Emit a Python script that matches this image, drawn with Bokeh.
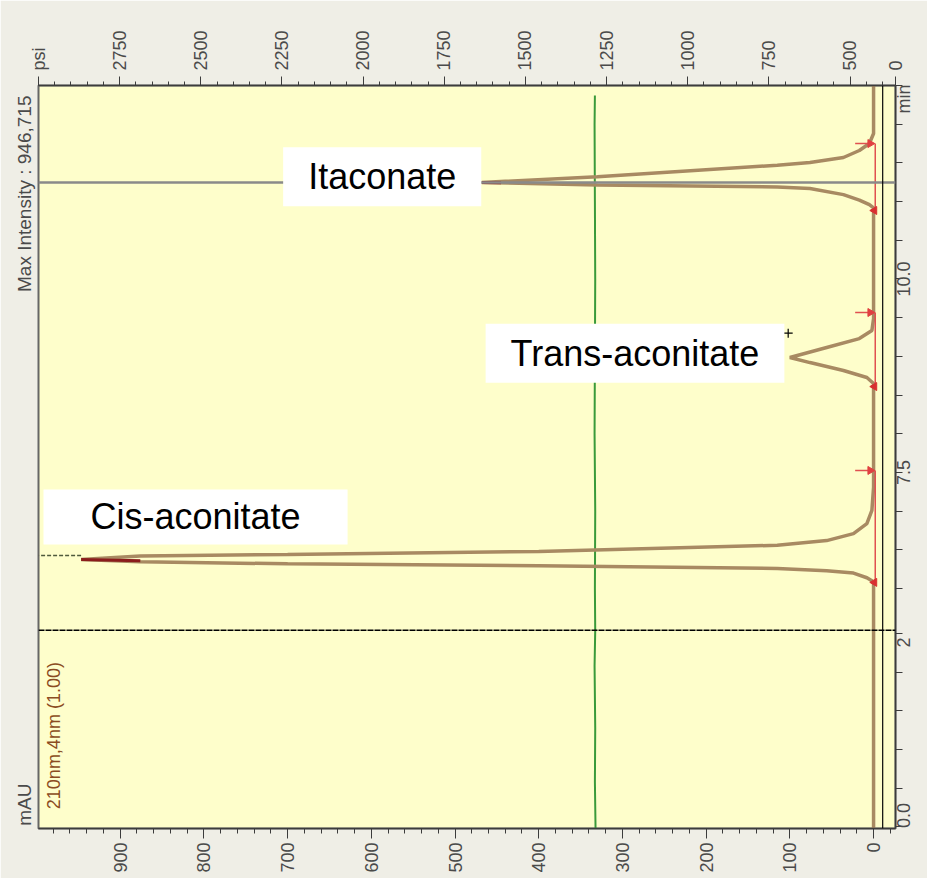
import math
from bokeh.plotting import figure
from bokeh.models import Range1d, LinearAxis, FixedTicker, Label, Span, BoxAnnotation
from bokeh.embed import file_html
from bokeh.resources import INLINE

# ---------------- data (picture is a chromatogram rotated 90 deg CCW) ----------------
# display time axis (min); the lower strip 0.0-2.5 min is stitched below 5.46 min
trace_time = [2.90, 6.07, 6.10, 6.14, 6.20, 6.23, 6.26, 6.295, 6.32, 6.345, 6.376, 6.42, 6.44, 6.48,
              6.56, 6.62, 6.71, 6.84, 7.01, 7.31,
              8.65, 8.727, 8.818, 8.92, 8.986, 9.115, 9.23, 9.335, 9.49,
              10.92, 10.96, 11.02, 11.09, 11.17, 11.19, 11.215, 11.247, 11.32, 11.47, 11.505, 11.57,
              11.66, 11.75, 11.88, 12.50]
trace_mau = [0, 0, 2, 8, 24, 56, 115, 400, 700, 876, 946.7, 876, 700, 400,
             115, 56, 24, 8, 2, 0,
             0, 8, 36, 76, 100, 56, 17, 2, 0,
             0, 5, 17, 36, 76, 115, 330, 468, 330, 115, 76, 36,
             17, 5, 0, 0]

peak_names = ["Cis-aconitate", "Trans-aconitate", "Itaconate"]
peak_start = [6.08, 8.61, 10.885]
peak_end = [7.526, 9.567, 11.75]
apex_time = [6.376, 8.986, 11.247]
apex_mau = [946.7, 100, 468]
apex_hl_time = [6.36, 8.986, 11.244]
apex_hl_mau = [876, 100, 445]
label_mau = [810, 285, 587]
label_time = [6.925, 9.04, 11.32]

pressure_time = [2.90, 3.50, 4.20, 5.00, 5.46, 6.00, 7.00, 8.00, 9.00, 10.00, 11.00, 12.00, 12.37]
pressure_psi = [1284, 1286, 1285, 1287, 1285, 1286, 1285, 1287, 1286, 1285, 1286, 1287, 1286]

mau_ticks = [0, 100, 200, 300, 400, 500, 600, 700, 800, 900]
mau_minor = list(range(-20, 1000, 20))
psi_ticks = [360, 500, 750, 1000, 1250, 1500, 1750, 2000, 2250, 2500, 2750, 3000]
psi_minor = list(range(400, 3001, 50))
psi_labels = {3000: "psi", 360: "0"}
# right axis: tick marks at time_marks, labels anchored at time_label_pos
time_marks = [2.92, 3.42, 3.92, 4.42, 4.92, 5.42, 6.0, 6.5, 7.0, 7.5, 8.0, 8.5, 9.0, 9.5, 10.0,
              10.5, 11.0, 11.5, 12.0, 12.5]
time_label_pos = [2.905, 5.24, 7.338, 9.774, 12.138]
time_label_txt = ["0.0", "2", "7.5", "10.0", "min"]
left_label_pos = [12.37, 3.48]
left_label_txt = ["Max Intensity : 946,715", "mAU"]
cut_time = 5.46

FONT = "Liberation Sans"
AXC = "#4a4a4a"

p = figure(width=927, height=878, output_backend="svg", toolbar_location=None,
           x_range=Range1d(997.6, -26.2), y_range=Range1d(2.90, 12.50),
           x_axis_location="below", y_axis_location="right",
           min_border_left=38, min_border_right=28, min_border_top=85, min_border_bottom=50,
           background_fill_color="#FEFECB", border_fill_color="#EFEEE6",
           outline_line_color="#666666", outline_line_width=2)
p.extra_x_ranges = {"psi": Range1d(3000, 360)}
p.xgrid.visible = False
p.ygrid.visible = False


def style(ax, tick_out, minor_out, standoff, size="18px"):
    ax.axis_line_color = "#3c3c3c"
    ax.axis_line_width = 1.5
    ax.major_tick_line_color = "#3c3c3c"
    ax.minor_tick_line_color = "#3c3c3c"
    ax.major_tick_in = 0
    ax.minor_tick_in = 0
    ax.major_tick_out = tick_out
    ax.minor_tick_out = minor_out
    ax.major_label_standoff = standoff
    ax.major_label_orientation = math.pi / 2
    ax.major_label_text_font = FONT
    ax.major_label_text_font_size = size
    ax.major_label_text_color = AXC


xb = p.xaxis[0]
xb.ticker = FixedTicker(ticks=mau_ticks, minor_ticks=mau_minor)
style(xb, 10, 5, 4)

top = LinearAxis(x_range_name="psi", ticker=FixedTicker(ticks=psi_ticks, minor_ticks=psi_minor),
                 major_label_overrides=psi_labels)
style(top, 9, 4, 6)
p.add_layout(top, "above")

yr = p.yaxis[0]
yr.ticker = FixedTicker(ticks=time_label_pos, minor_ticks=time_marks)
yr.major_label_overrides = dict(zip(time_label_pos, time_label_txt))
style(yr, 7, 7, 2, "18px")
yr.major_tick_line_color = None

left = LinearAxis(ticker=FixedTicker(ticks=left_label_pos, minor_ticks=[]),
                  major_label_overrides=dict(zip(left_label_pos, left_label_txt)))
style(left, 0, 0, 14, "19px")
left.axis_line_color = None
left.major_tick_line_color = None
left.minor_tick_line_color = None
p.add_layout(left, "left")

# crosshair through Itaconate apex
p.add_layout(Span(location=apex_time[2], dimension="width", line_color="#8a8a8a", line_width=2.5))

# pressure trace (psi)
p.line(pressure_psi, pressure_time, x_range_name="psi", line_color="#3a9a3a", line_width=2)

# chromatogram
p.line(trace_mau, trace_time, line_color="#a88a62", line_width=3.5)

# apex highlights
for t0, m0, t1, m1 in zip(apex_hl_time, apex_hl_mau, apex_time, apex_mau):
    p.line([m0, m1], [t0, t1], line_color="#8b1c1c", line_width=3)
# off-scale dashed continuation of cis-aconitate apex
p.line([apex_mau[0], 997.6], [6.428, 6.428], line_color="#4f5a3c", line_width=1.5, line_dash="4 2")

# integration baselines and markers
p.segment(x0=[-2] * 3, y0=peak_start, x1=[-2] * 3, y1=peak_end, line_color="#e05050", line_width=1.5)
p.segment(x0=[22] * 3, y0=peak_end, x1=[4] * 3, y1=peak_end, line_color="#e05050", line_width=1.5)
p.scatter([4] * 3, peak_end, marker="triangle", angle=-math.pi / 2, size=8,
          fill_color="#e04040", line_color="#e04040")
p.scatter([-1] * 3, peak_start, marker="triangle", angle=math.pi / 2, size=8,
          fill_color="#d83030", line_color="#d83030")
p.scatter([102], [9.30], marker="cross", size=9, line_color="black", line_width=1.2)

# stitch lines of the screenshot
p.add_layout(BoxAnnotation(left=-10.2, right=-11.6, fill_color="black", fill_alpha=1,
                           line_color=None))
p.add_layout(BoxAnnotation(bottom=cut_time, top=cut_time, fill_alpha=0,
                           line_color="black", line_alpha=1, line_width=1.5, line_dash="5 2"))

# peak names
pads = [dict(left=47, right=47, top=7, bottom=7), dict(left=25, right=25, top=9, bottom=9),
        dict(left=25, right=25, top=9, bottom=9)]
for name, m, t, pd in zip(peak_names, label_mau, label_time, pads):
    p.add_layout(Label(x=m, y=t, text=name, text_align="center", text_baseline="middle",
                       text_font=FONT, text_font_size="36px", text_color="black",
                       background_fill_color="white", padding=pd))

# detector channel note inside the frame
p.add_layout(Label(x=979, y=4.10, text="210nm,4nm (1.00)", angle=math.pi / 2, text_align="center",
                   text_baseline="middle", text_font=FONT, text_font_size="18px",
                   text_color="#8b4c22"))

open("out.html", "w").write(file_html(p, INLINE))
